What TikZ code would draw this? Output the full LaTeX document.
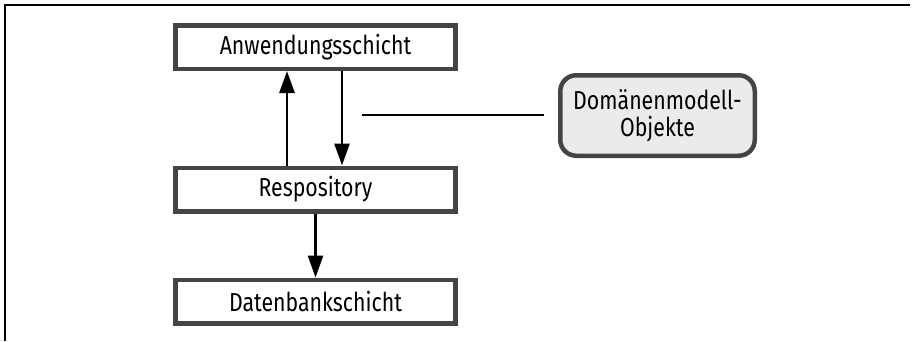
\documentclass[tikz,border=0pt]{standalone}
\usepackage{fontspec}
\setmainfont{Fira Sans}[FakeStretch=0.82]
\usetikzlibrary{positioning}
\usetikzlibrary{arrows.meta}

\definecolor{boxline}{HTML}{444444}
\definecolor{boxfill}{HTML}{EBEBEB}

\begin{document}
\begin{tikzpicture}[x = 1pt, y = -1pt,
		layer/.style = {draw = boxline, line width = 4.5pt, fill = white, minimum width = 280pt, minimum height = 43.5pt, inner sep = 0pt, font = \fontsize{26}{28}\selectfont},
		entity/.style = {draw = boxline, line width = 4.5pt, fill = boxfill, rounded corners = 16pt, minimum width = 194.5pt, minimum height = 80.5pt, inner sep = 0pt, align = center, font = \fontsize{26}{27}\selectfont},
		flow/.style = {black, line width = 2.8pt, -{Triangle[length = 22pt, width = 15pt]}}]
					\useasboundingbox (0, 0) rectangle (920, 341);
					\draw [black, line width = 1.8pt] (5, 341) -- (5, 5) -- (910, 5);
					\node [layer] (app) at (315.5, 47) {Anwendungsschicht};
					\node [layer] (repo) at (315.5, 189.5) {Respository};
					\node [layer] (db) at (315.5, 301.5) {Datenbankschicht};
					\node [entity] (dom) at (657.5, 115.5) {Domänenmodell-\\Objekte};
					\draw [flow] ([xshift = -28.5pt] repo.north) -- ([xshift = -28.5pt] app.south);
					\draw [flow] ([xshift = 26.5pt] app.south) -- ([xshift = 26.5pt] repo.north);
					\draw [flow] (repo) -- (db);
					\coordinate (tag) at (362, 115);
					\draw [black, line width = 2.8pt] (tag) -- ([xshift = -14pt] dom.west |- tag);
				\end{tikzpicture}
\end{document}
